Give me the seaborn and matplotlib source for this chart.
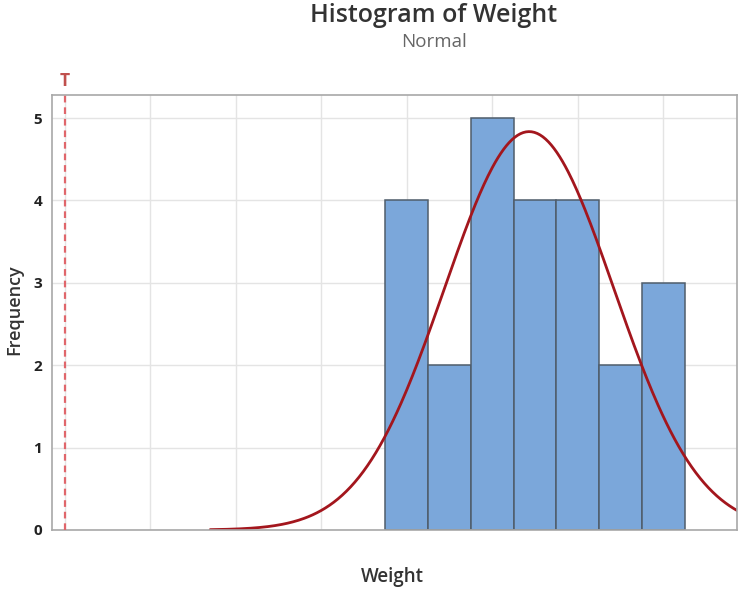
import numpy as np
import pandas as pd
import matplotlib
matplotlib.use("Agg")
import matplotlib.pyplot as plt
import seaborn as sns

# Binned weight data
bin_edges = [7.5, 8.5, 9.5, 10.5, 11.5, 12.5, 13.5, 14.5]
bin_mids = [8, 9, 10, 11, 12, 13, 14]
counts = [4, 2, 5, 4, 4, 2, 3]
# Fitted normal distribution parameters
fit_mean = 10.86
fit_sd = 1.98
target = 0.0
x_ticks = [0, 2, 4, 6, 8, 10, 12, 14]
y_ticks = [0, 1, 2, 3, 4, 5]

sns.set_theme(style="white")
plt.rcParams["font.family"] = ["Open Sans", "DejaVu Sans"]

df = pd.DataFrame({"Weight": bin_mids, "n": counts})

n_total = float(np.sum(counts))
bw = bin_edges[1] - bin_edges[0]
xs = np.linspace(3.4, 16.5, 400)
ys = n_total * bw * np.exp(-0.5 * ((xs - fit_mean) / fit_sd) ** 2) / (fit_sd * np.sqrt(2 * np.pi))
curve = pd.DataFrame({"x": xs, "y": ys})

fig = plt.figure(figsize=(7.38, 5.89), dpi=100)
ax = fig.add_axes([0.0705, 0.1002, 0.928, 0.7385])

ax.grid(True, color="#e4e4e4", linewidth=1.0)
ax.set_axisbelow(True)

sns.histplot(data=df, x="Weight", weights="n", bins=bin_edges, ax=ax,
             color="#7ba7da", edgecolor="#4f5d6b", linewidth=1.1, alpha=1.0)
sns.lineplot(data=curve, x="x", y="y", ax=ax, color="#a3161d", linewidth=2.0)

ax.axvline(target, color="#e0666b", linestyle=(0, (3, 2.2)), linewidth=1.6, zorder=3)
ax.text(target, 1.012, "T", transform=ax.get_xaxis_transform(), ha="center", va="bottom",
        color="#c0504d", fontsize=12.5, fontweight="bold")

ax.set_xlim(-0.30, 15.72)
ax.set_ylim(0, 5.28)
ax.set_xticks(x_ticks)
ax.set_xticklabels([])
ax.set_yticks(y_ticks)
ax.set_yticklabels([str(v) for v in y_ticks], fontsize=11, fontweight="bold", color="#222222")
ax.tick_params(axis="both", direction="out", length=4, width=1, color="#a0a0a0", pad=3)

for s in ax.spines.values():
    s.set_color("#a8a8a8")
    s.set_linewidth(1.2)

ax.set_xlabel("")
ax.set_ylabel("")
fig.text(14 / 738, 1 - 310 / 589, "Frequency", rotation=90, ha="center", va="center",
         fontsize=13, color="#333333", fontweight="semibold")
fig.text(392 / 738, 1 - 577 / 589, "Weight", ha="center", va="center",
         fontsize=13.5, color="#333333", fontweight="semibold")
fig.text(434 / 738, 1 - 16 / 589, "Histogram of Weight", ha="center", va="center",
         fontsize=18, color="#333333", fontweight="semibold")
fig.text(434 / 738, 1 - 42 / 589, "Normal", ha="center", va="center",
         fontsize=13.5, color="#666666")

fig.savefig("out.png", dpi=100, facecolor="white")
